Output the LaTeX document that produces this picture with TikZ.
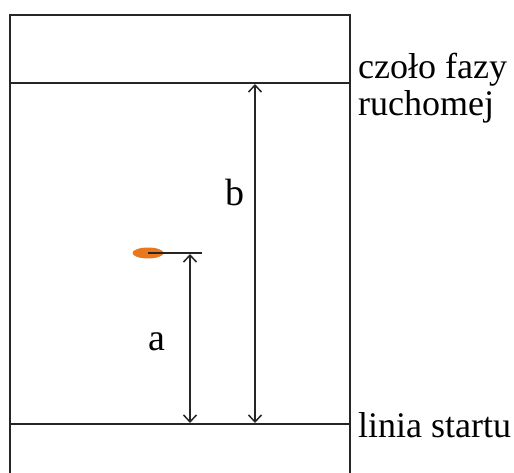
\documentclass[tikz,border=0pt]{standalone}
\usepackage{fontspec}
\setmainfont{Liberation Serif}
\usetikzlibrary{arrows.meta,shapes.geometric}
\definecolor{spot}{HTML}{E8771E}
\tikzset{
  frame/.style={line width=2pt, draw=black!85},
  dim/.style={line width=1.5pt, draw=black!85, {Straight Barb[length=7pt,width=13pt]}-{Straight Barb[length=7pt,width=13pt]}},
  lbl/.style={font=\fontsize{36}{37}\selectfont, inner sep=0pt, anchor=base west},
  letter/.style={font=\fontsize{38}{40}\selectfont\rmfamily, inner sep=0pt, anchor=base}
}
\begin{document}
\begin{tikzpicture}[x=1pt,y=-1pt]
\useasboundingbox (0,0) rectangle (514,473);
\begin{scope}
\clip (0,0) rectangle (514,473);
\draw[frame] (10,15) rectangle (350,490);
\end{scope}
\coordinate (frontL) at (10,83);
\coordinate (frontR) at (350,83);
\coordinate (startL) at (10,424);
\coordinate (startR) at (350,424);
\draw[frame] (frontL) -- (frontR);
\draw[frame] (startL) -- (startR);
\node[ellipse, fill=spot, minimum width=31pt, minimum height=11pt, inner sep=0pt] (spotnode) at (148,253) {};
\coordinate (spotc) at (148,253);
\coordinate (spotend) at (202,253);
\draw[line width=1.7pt, draw=black!85] (spotc) -- (spotend);
\coordinate (aTop) at (190,254);
\coordinate (aBot) at (190,423);
\coordinate (bTop) at (255,84);
\coordinate (bBot) at (255,423);
\draw[dim] (bTop) -- (bBot);
\draw[dim] (aTop) -- (aBot);
\node[letter] (blabel) at (235,206) {b};
\node[letter] (alabel) at (157,350) {a};
\node[lbl] (front1) at (358,79) {czoło fazy};
\node[lbl] (front2) at (358,116) {ruchomej};
\node[lbl] (start) at (358,437) {linia startu};
\end{tikzpicture}
\end{document}
